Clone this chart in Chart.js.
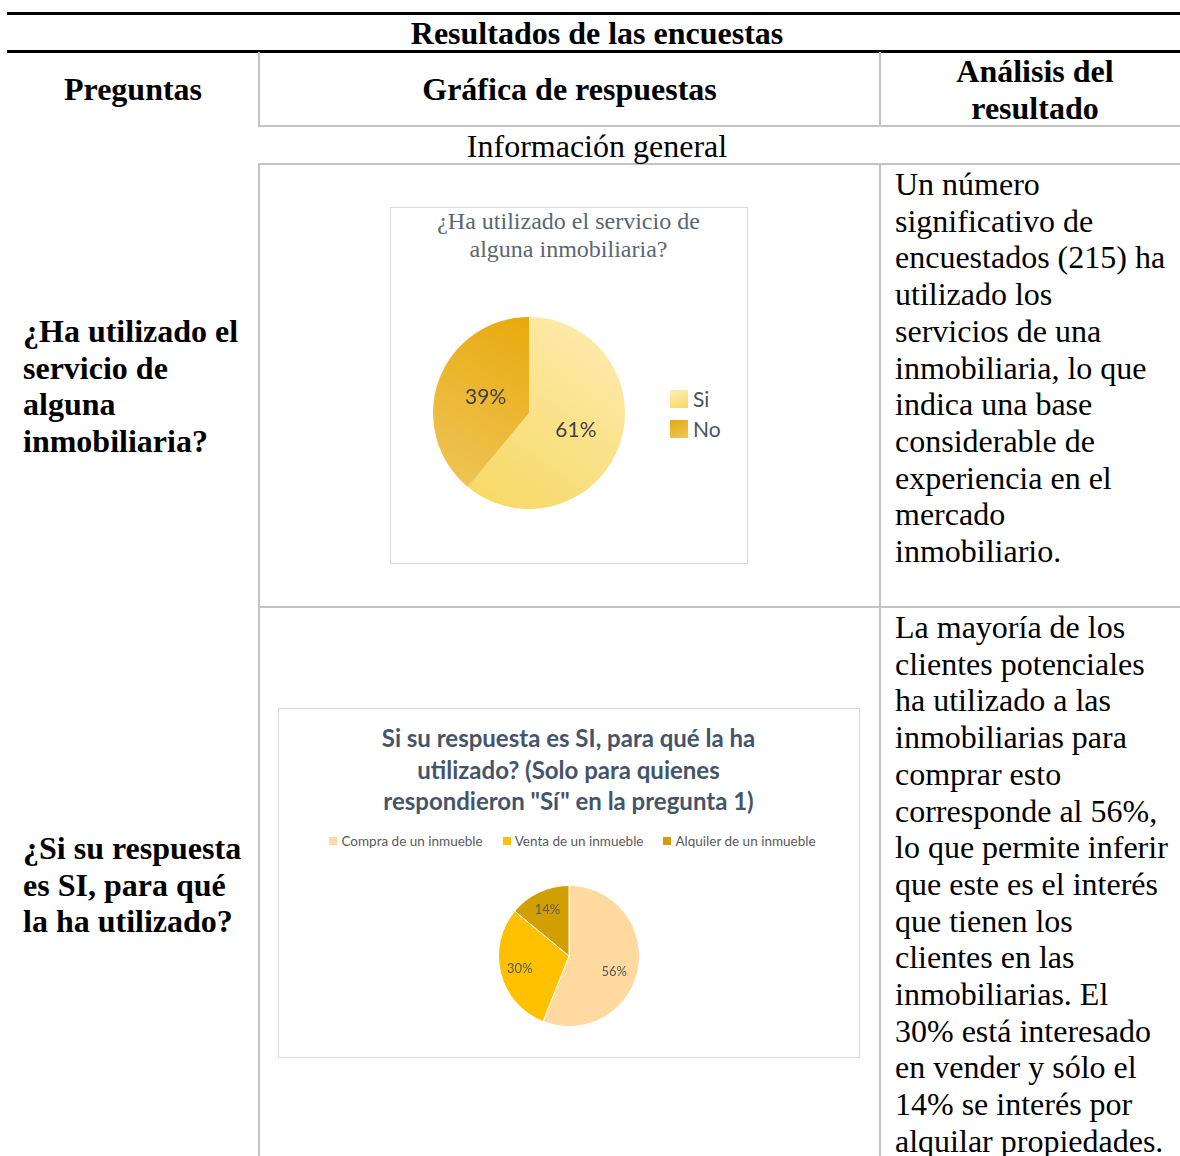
<!DOCTYPE html>
<html>
<head>
<meta charset="utf-8">
<script src="https://cdn.jsdelivr.net/npm/chart.js@4.4.1/dist/chart.umd.min.js"></script>
<style>
  html, body { margin:0; padding:0; background:#fff; }
  body { width:1180px; height:1156px; position:relative; overflow:hidden; font-family:"Liberation Serif","Times New Roman",serif; color:#000; }
  .hline { position:absolute; height:2px; background:#c3c3c3; }
  .vline { position:absolute; width:2px; background:#c3c3c3; }
  .black { position:absolute; height:3px; background:#000; }
  .t { position:absolute; font-size:32px; line-height:36.7px; white-space:nowrap; }
  .b { font-weight:bold; }
  .box { position:absolute; border:1px solid #d9d9d9; box-sizing:border-box; background:#fff; }
  .c1title { position:absolute; left:390px; width:357px; top:207px; text-align:center; font-family:"Liberation Serif",serif; font-size:24px; line-height:28px; color:#5b6573; }
  .c2title { position:absolute; left:278px; width:581px; top:722px; text-align:center; font-family:"Lato","Open Sans",sans-serif; font-weight:bold; font-size:24px; line-height:31.5px; color:#44546a; }
  .leg1 { position:absolute; left:670px; font-family:"Lato","Open Sans",sans-serif; font-size:21px; color:#4a5363; }
  .leg1 span.sq { position:absolute; left:0; width:18px; height:18px; }
  .leg1 span.tx { position:absolute; left:23px; line-height:26px; white-space:nowrap; }
  .leg2 { position:absolute; left:282px; width:581px; top:832px; display:flex; justify-content:center; gap:20px; font-family:"Lato","Open Sans",sans-serif; font-size:13.5px; color:#595959; line-height:18px; }
  .leg2 .it { display:flex; align-items:center; white-space:nowrap; }
  .leg2 .sq { width:8px; height:8px; margin-right:4px; display:inline-block; }
  canvas { position:absolute; }
</style>
</head>
<body>
<!-- table frame -->
<div class="black" style="left:7px; top:12px; width:1173px;"></div>
<div class="black" style="left:7px; top:50px; width:1173px;"></div>
<div class="vline" style="left:258px; top:52px; height:74px;"></div>
<div class="vline" style="left:879px; top:52px; height:74px;"></div>
<div class="hline" style="left:258px; top:125px; width:922px;"></div>
<div class="hline" style="left:258px; top:163px; width:922px;"></div>
<div class="vline" style="left:258px; top:163px; height:993px;"></div>
<div class="vline" style="left:879px; top:163px; height:993px;"></div>
<div class="hline" style="left:258px; top:606px; width:922px;"></div>

<!-- header texts -->
<div class="t b" style="left:0; width:1180px; text-align:center; top:15px; padding-left:14px; box-sizing:border-box;">Resultados de las encuestas</div>
<div class="t b" style="left:7px; width:252px; text-align:center; top:71px;">Preguntas</div>
<div class="t b" style="left:259px; width:621px; text-align:center; top:71px;">Gráfica de respuestas</div>
<div class="t b" style="left:885px; width:300px; text-align:center; top:53px;">Análisis del<br>resultado</div>
<div class="t" style="left:259px; width:676px; text-align:center; top:128px;">Información general</div>

<!-- row 1 -->
<div class="t b" style="left:23px; top:313px;">¿Ha utilizado el<br>servicio de<br>alguna<br>inmobiliaria?</div>
<div class="t" style="left:895px; top:166px;">Un número<br>significativo de<br>encuestados (215) ha<br>utilizado los<br>servicios de una<br>inmobiliaria, lo que<br>indica una base<br>considerable de<br>experiencia en el<br>mercado<br>inmobiliario.</div>

<!-- row 2 -->
<div class="t b" style="left:23px; top:830px;">¿Si su respuesta<br>es SI, para qué<br>la ha utilizado?</div>
<div class="t" style="left:895px; top:609px;">La mayoría de los<br>clientes potenciales<br>ha utilizado a las<br>inmobiliarias para<br>comprar esto<br>corresponde al 56%,<br>lo que permite inferir<br>que este es el interés<br>que tienen los<br>clientes en las<br>inmobiliarias. El<br>30% está interesado<br>en vender y sólo el<br>14% se interés por<br>alquilar propiedades.</div>

<!-- chart 1 -->
<div class="box" style="left:390px; top:207px; width:358px; height:357px;"></div>
<div class="c1title" id="c1title"></div>
<canvas id="pie1" width="212" height="212" style="left:423px; top:307px; width:212px; height:212px;"></canvas>
<div id="leg1"></div>

<!-- chart 2 -->
<div class="box" style="left:278px; top:708px; width:582px; height:350px;"></div>
<div class="c2title" id="c2title"></div>
<div class="leg2" id="leg2"></div>
<canvas id="pie2" width="162" height="162" style="left:488px; top:875px; width:162px; height:162px;"></canvas>

<script>
// ---------------- data ----------------
const q1Title = ['¿Ha utilizado el servicio de', 'alguna inmobiliaria?'];
const q1Labels = ['Si', 'No'];
const q1Values = [61, 39];

const q2Title = ['Si su respuesta es SI, para qué la ha', 'utilizado? (Solo para quienes', 'respondieron "Sí" en la pregunta 1)'];
const q2Labels = ['Compra de un inmueble', 'Venta de un inmueble', 'Alquiler de un inmueble'];
const q2Values = [56, 30, 14];

// ---------------- styles ----------------
const q1Grad = [['#ffecb4', '#f6d965'], ['#e8a90c', '#efc65c']];
const q2Colors = ['#ffd9a0', '#ffc000', '#d29f00'];

document.getElementById('c1title').innerHTML = q1Title.join('<br>');
document.getElementById('c2title').innerHTML = q2Title.join('<br>');

// legend 1
const leg1 = document.getElementById('leg1');
q1Labels.forEach((l, i) => {
  const d = document.createElement('div');
  d.className = 'leg1';
  d.style.top = (390 + i * 30) + 'px';
  d.innerHTML = '<span class="sq" style="background:linear-gradient(160deg,' + q1Grad[i][0] + ',' + q1Grad[i][1] + ')"></span><span class="tx" style="top:-4px">' + l + '</span>';
  leg1.appendChild(d);
});
// legend 2
const leg2 = document.getElementById('leg2');
q2Labels.forEach((l, i) => {
  const d = document.createElement('div');
  d.className = 'it';
  d.innerHTML = '<span class="sq" style="background:' + q2Colors[i] + '"></span>' + l;
  leg2.appendChild(d);
});

const pctPlugin = {
  id: 'pct',
  afterDatasetsDraw(chart, args, opts) {
    const ctx = chart.ctx;
    const meta = chart.getDatasetMeta(0);
    const vals = chart.data.datasets[0].data;
    ctx.save();
    ctx.font = opts.font;
    ctx.fillStyle = opts.color;
    ctx.textAlign = 'center';
    ctx.textBaseline = 'middle';
    meta.data.forEach((arc, i) => {
      const p = arc.getProps(['x', 'y', 'startAngle', 'endAngle', 'outerRadius'], true);
      const a = (p.startAngle + p.endAngle) / 2 + (opts.shift ? opts.shift[i] : 0);
      const r = p.outerRadius * opts.ratio[i];
      ctx.fillText(vals[i] + '%', p.x + Math.cos(a) * r, p.y + Math.sin(a) * r);
    });
    ctx.restore();
  }
};

function grad(ctx, i) {
  const ca = ctx.chart.chartArea;
  if (!ca) return q1Grad[i][0];
  const c = ctx.chart.ctx;
  let g;
  if (i === 0) g = c.createLinearGradient(ca.right, ca.top, ca.left + ca.width * 0.3, ca.bottom);
  else g = c.createLinearGradient(ca.left + ca.width * 0.5, ca.top, ca.left, ca.bottom * 0.9);
  g.addColorStop(0, q1Grad[i][0]);
  g.addColorStop(1, q1Grad[i][1]);
  return g;
}

const common = {
  responsive: false,
  animation: false,
  events: [],
  layout: { padding: 10 },
  plugins: { legend: { display: false }, tooltip: { enabled: false }, title: { display: false } }
};

new Chart(document.getElementById('pie1'), {
  type: 'pie',
  data: {
    labels: q1Labels,
    datasets: [{
      data: q1Values,
      backgroundColor: (ctx) => grad(ctx, ctx.dataIndex),
      borderWidth: 0,
      hoverOffset: 0
    }]
  },
  options: Object.assign({}, common, {
    plugins: Object.assign({}, common.plugins, {
      pct: { font: '21px Lato, "Open Sans", sans-serif', color: '#404040', ratio: [0.52, 0.48] }
    })
  }),
  plugins: [pctPlugin]
});

new Chart(document.getElementById('pie2'), {
  type: 'pie',
  data: {
    labels: q2Labels,
    datasets: [{
      data: q2Values,
      backgroundColor: q2Colors,
      borderColor: '#ffffff',
      borderWidth: 1,
      hoverOffset: 0
    }]
  },
  options: Object.assign({}, common, {
    plugins: Object.assign({}, common.plugins, {
      pct: { font: '13px Lato, "Open Sans", sans-serif', color: '#595959', ratio: [0.68, 0.72, 0.72], shift: [0.15, 0, 0] }
    })
  }),
  plugins: [pctPlugin]
});
</script>
</body>
</html>
